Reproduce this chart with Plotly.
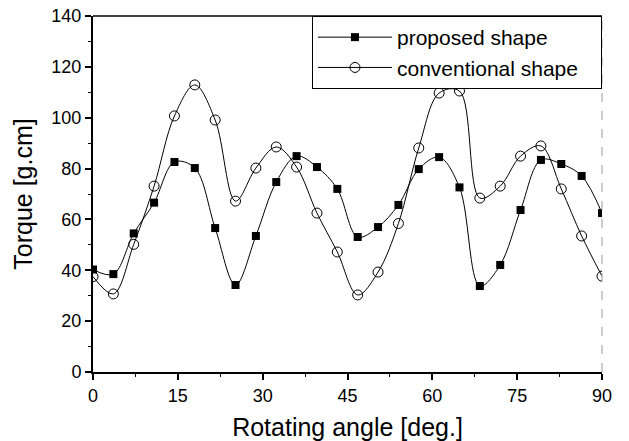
import plotly.graph_objects as go

angle = [0, 3.6, 7.2, 10.8, 14.4, 18.0, 21.6, 25.2, 28.8, 32.4, 36.0, 39.6, 43.2,
         46.8, 50.4, 54.0, 57.6, 61.2, 64.8, 68.4, 72.0, 75.6, 79.2, 82.8, 86.4, 90.0]
proposed = [40.3, 38.5, 54.5, 66.6, 82.6, 80.2, 56.6, 34.2, 53.5, 74.7, 84.9, 80.6, 72.0,
            53.1, 57.0, 65.7, 79.8, 84.5, 72.6, 33.8, 42.1, 63.7, 83.4, 81.8, 77.1, 62.5]
conventional = [37.5, 30.7, 50.2, 73.1, 100.7, 112.9, 99.1, 67.2, 80.2, 88.5, 80.6, 62.5, 47.2,
                30.3, 39.3, 58.4, 88.1, 109.7, 110.5, 68.4, 73.1, 84.9, 88.9, 72.0, 53.5, 37.7]
x_ticks = [0, 15, 30, 45, 60, 75, 90]
y_ticks = [0, 20, 40, 60, 80, 100, 120, 140]

FONT = "Liberation Sans, Arial, sans-serif"

fig = go.Figure()
fig.add_trace(go.Scatter(
    x=angle, y=proposed, name="proposed shape", mode="lines+markers",
    line=dict(color="black", width=1, shape="spline", smoothing=1.0),
    marker=dict(symbol="square", size=8, color="black", line=dict(color="black", width=0)),
))
fig.add_trace(go.Scatter(
    x=angle, y=conventional, name="conventional shape\u00a0\u00a0\u00a0", mode="lines+markers",
    line=dict(color="black", width=1, shape="spline", smoothing=1.0),
    marker=dict(symbol="circle-open", size=10, color="black", line=dict(color="black", width=1)),
))

fig.update_layout(
    width=629, height=441,
    margin=dict(l=93, r=27, t=16, b=69),
    paper_bgcolor="white", plot_bgcolor="white",
    font=dict(family=FONT, color="black", size=18),
    showlegend=True,
    legend=dict(
        x=1, y=1, xanchor="right", yanchor="top",
        bgcolor="white", bordercolor="black", borderwidth=1,
        font=dict(family=FONT, size=21, color="black"),
        itemwidth=74, tracegroupgap=0,
    ),
    xaxis=dict(
        range=[0, 90], tickvals=x_ticks, ticktext=[str(v) for v in x_ticks],
        showgrid=False, zeroline=False, automargin=False,
        showline=True, linecolor="black", linewidth=2,
        ticks="outside", ticklen=6, tickwidth=1.5, tickcolor="black",
        minor=dict(dtick=7.5, ticks="outside", ticklen=3, tickwidth=1, tickcolor="black"),
        tickfont=dict(size=18),
        title=dict(text="Rotating angle [deg.]", font=dict(size=25), standoff=14),
    ),
    yaxis=dict(
        range=[0, 140], tickvals=y_ticks, ticktext=[str(v) for v in y_ticks],
        showgrid=False, zeroline=False, automargin=False,
        showline=True, linecolor="black", linewidth=2,
        ticks="outside", ticklen=6, tickwidth=1.5, tickcolor="black",
        minor=dict(dtick=10, ticks="outside", ticklen=3, tickwidth=1, tickcolor="black"),
        tickfont=dict(size=18),
        title=dict(text="Torque [g.cm]", font=dict(size=25), standoff=12),
    ),
    shapes=[
        dict(type="line", xref="paper", yref="paper", x0=0, x1=1, y0=1, y1=1,
             line=dict(color="black", width=1.5)),
        dict(type="line", xref="paper", yref="paper", x0=1, x1=1, y0=0, y1=1,
             line=dict(color="#999999", width=1, dash="dash")),
    ],
)

fig.write_html("out.html",
               config={"displayModeBar": False},
               post_script="document.body.style.margin='0';document.body.style.overflow='hidden';")
